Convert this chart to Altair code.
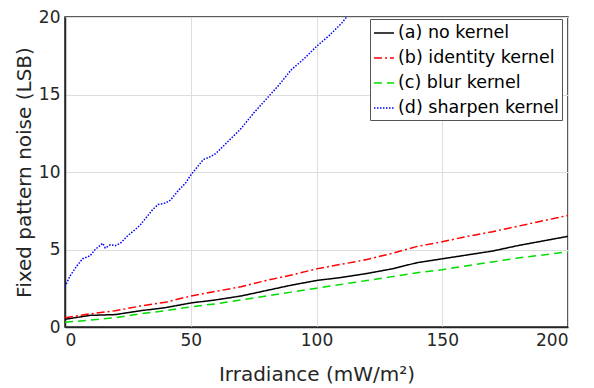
import altair as alt
import pandas as pd

x_common = [0, 10, 20, 30, 40, 50, 60, 70, 80, 90, 100, 110, 120, 130, 140, 150, 160, 170, 180, 190, 200]
a_vals = [0.5, 0.75, 0.8, 1.05, 1.25, 1.55, 1.75, 2.0, 2.35, 2.7, 3.0, 3.2, 3.45, 3.75, 4.15, 4.4, 4.65, 4.9, 5.25, 5.55, 5.85]
b_vals = [0.6, 0.85, 1.05, 1.35, 1.6, 2.0, 2.3, 2.6, 3.0, 3.35, 3.75, 4.05, 4.35, 4.75, 5.2, 5.5, 5.85, 6.15, 6.5, 6.85, 7.2]
c_vals = [0.3, 0.45, 0.6, 0.85, 1.05, 1.3, 1.5, 1.75, 2.0, 2.25, 2.5, 2.75, 3.0, 3.25, 3.5, 3.7, 3.95, 4.2, 4.45, 4.65, 4.85]
d_x = [0, 2, 5, 7, 10, 12, 15, 16, 18, 20, 22, 25, 28, 30, 33, 35, 37, 40, 42, 45, 48, 50, 53, 55, 58, 60, 65, 70, 75, 80, 85, 90, 95, 100, 105, 110, 113, 116]
d_vals = [2.6, 3.3, 4.0, 4.4, 4.6, 5.0, 5.4, 5.1, 5.3, 5.25, 5.4, 5.9, 6.3, 6.6, 7.2, 7.6, 7.9, 8.0, 8.2, 8.8, 9.3, 9.8, 10.4, 10.8, 11.0, 11.2, 12.0, 12.8, 13.8, 14.7, 15.6, 16.6, 17.3, 18.1, 18.8, 19.6, 20.2, 20.7]

names = ["(a) no kernel", "(b) identity kernel", "(c) blur kernel", "(d) sharpen kernel"]
colors = ["#000000", "#ff0000", "#00dd00", "#0000ff"]
dashes = [[1, 0], [8, 3, 2, 3], [8, 5], [1.5, 1.5]]

rows = []
for xs, ys, n in [(x_common, a_vals, names[0]), (x_common, b_vals, names[1]),
                  (x_common, c_vals, names[2]), (d_x, d_vals, names[3])]:
    for i, (xv, yv) in enumerate(zip(xs, ys)):
        rows.append({"x": xv, "y": yv, "series": n, "order": i})
df = pd.DataFrame(rows)

font = "DejaVu Sans"

chart = alt.Chart(df).mark_line(strokeWidth=1.5, clip=True).encode(
    x=alt.X("x:Q", scale=alt.Scale(domain=[0, 200], nice=False),
            axis=alt.Axis(values=[0, 50, 100, 150, 200], title="Irradiance (mW/m²)")),
    y=alt.Y("y:Q", scale=alt.Scale(domain=[0, 20], nice=False),
            axis=alt.Axis(values=[0, 5, 10, 15, 20], title="Fixed pattern noise (LSB)")),
    color=alt.Color("series:N", scale=alt.Scale(domain=names, range=colors),
                    legend=alt.Legend(title=None, orient="none", legendX=305, legendY=2,
                                      symbolType="stroke", symbolSize=400, symbolStrokeWidth=1.5,
                                      labelFontSize=17.5, labelFont=font, labelColor="#000000",
                                      rowPadding=5, padding=3, fillColor="white",
                                      strokeColor="#555555", labelOffset=3, labelLimit=300)),
    strokeDash=alt.StrokeDash("series:N", scale=alt.Scale(domain=names, range=dashes), legend=None),
    order="order:Q",
).properties(
    width=503, height=310,
    autosize=alt.AutoSizeParams(type="none"),
    padding={"left": 57, "top": 9, "right": 10, "bottom": 60},
).configure_view(
    stroke="#262626", strokeWidth=1.5
).configure_axis(
    labelFont=font, titleFont=font, labelFontSize=17, titleFontSize=20,
    labelColor="#262626", titleColor="#262626", titleFontWeight="normal",
    gridColor="#dddddd", gridWidth=1, domainColor="#262626", domainWidth=1.5,
    tickColor="#262626", tickSize=0, labelPadding=5,
).configure_axisX(titlePadding=16).configure_axisY(titlePadding=4)

chart.save("out.html", embed_options={"renderer": "svg", "actions": False})
